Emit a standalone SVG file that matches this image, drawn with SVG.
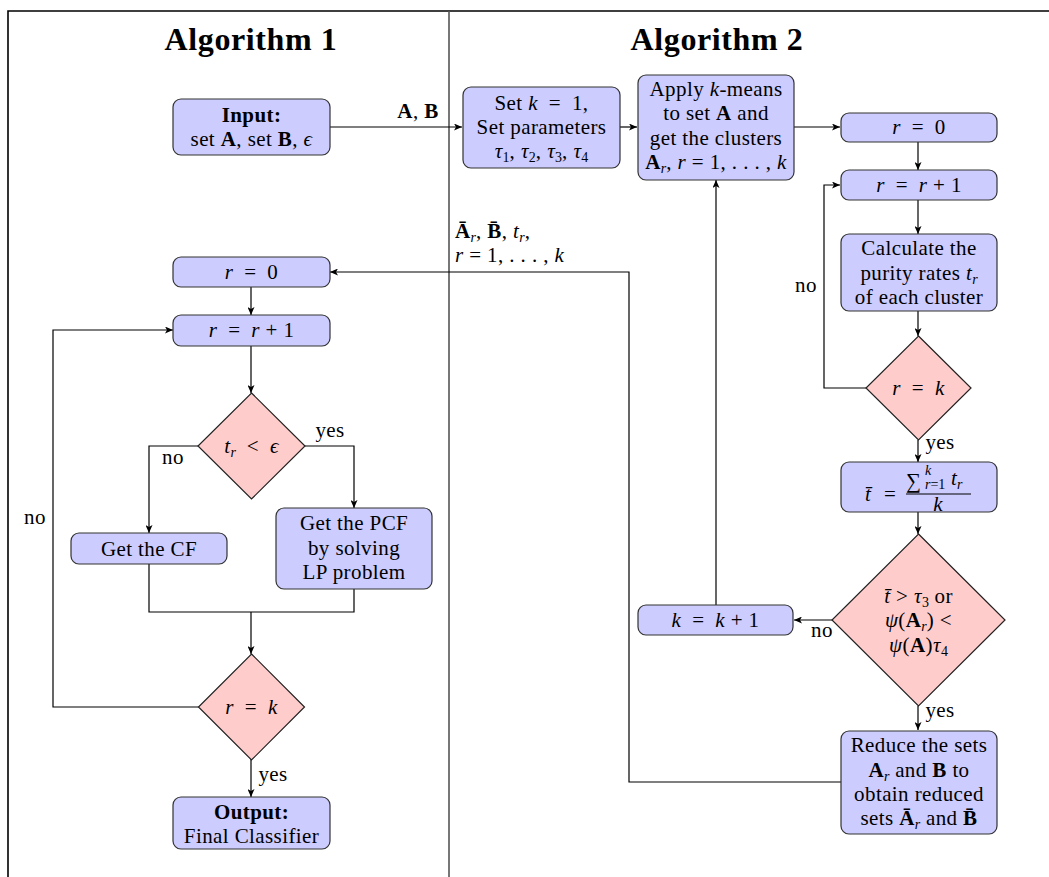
<svg xmlns="http://www.w3.org/2000/svg" width="1049" height="877" viewBox="0 0 1049 877">
<style>
text{font-family:"Liberation Serif","DejaVu Serif",serif;font-size:21px;letter-spacing:0.4px;fill:#000}
.c{text-anchor:middle}
.ttl{font-size:32px;font-weight:bold;letter-spacing:0.6px}
.i{font-style:italic}
.b{font-weight:bold}
.s{font-size:14px;letter-spacing:0}
.box{fill:#ccccff;stroke:#333;stroke-width:1.2}
.dia{fill:#ffcccc;stroke:#222;stroke-width:1.2}
.ln{fill:none;stroke:#000;stroke-width:1.2}
.lnA{fill:none;stroke:#000;stroke-width:1.2;marker-end:url(#ah)}
</style>
<defs>
<marker id="ah" markerUnits="userSpaceOnUse" markerWidth="9" markerHeight="7" refX="8" refY="3.5" orient="auto">
<path d="M0,0 L8,3.5 L0,7 L2,3.5 z" fill="#000"/>
</marker>
</defs>
<rect width="1049" height="877" fill="#fff"/>
<g id="frame">
<path d="M8,877 V11 H1049" fill="none" stroke="#000" stroke-width="1.6"/>
<path d="M449,11 V877" fill="none" stroke="#555" stroke-width="1.6"/>
<text x="251" y="50" class="c ttl">Algorithm 1</text>
<text x="717" y="50" class="c ttl">Algorithm 2</text>
</g>
<g id="connectors">
<path class="lnA" d="M330,127 H462"/>
<path class="lnA" d="M620,127 H637"/>
<path class="lnA" d="M794,127 H840"/>
<path class="lnA" d="M918,142 V170"/>
<path class="lnA" d="M918,200 V234"/>
<path class="lnA" d="M918,311 V336"/>
<path class="lnA" d="M866,388 H824 V185 H840"/>
<path class="lnA" d="M918,440 V462"/>
<path class="lnA" d="M918,512 V534"/>
<path class="lnA" d="M832,620 H794"/>
<path class="lnA" d="M716,605 V180"/>
<path class="lnA" d="M918,706 V730"/>
<path class="lnA" d="M841,782 H629 V272 H330"/>
<path class="lnA" d="M251,287 V315"/>
<path class="lnA" d="M251,346 V393"/>
<path class="lnA" d="M199,446 H149 V533"/>
<path class="lnA" d="M305,446 H354 V508"/>
<path class="ln" d="M149,564 V612 H354 V589"/>
<path class="lnA" d="M251,612 V654"/>
<path class="lnA" d="M199,707 H53 V330 H173"/>
<path class="lnA" d="M251,759 V797"/>
<text x="418" y="118" class="c b">A<tspan font-weight="normal">, </tspan>B</text>
<text x="455" y="238"><tspan class="b">Ā</tspan><tspan class="s i" dy="4">r</tspan><tspan dy="-4">, </tspan><tspan class="b">B̄</tspan>, <tspan class="i">t</tspan><tspan class="s i" dy="4">r</tspan><tspan dy="-4">,</tspan></text>
<text x="455" y="262"><tspan class="i">r</tspan> = 1, . . . , <tspan class="i">k</tspan></text>
<text x="173" y="464" class="c">no</text>
<text x="330" y="437" class="c">yes</text>
<text x="35" y="524" class="c">no</text>
<text x="273" y="781" class="c">yes</text>
<text x="806" y="292" class="c">no</text>
<text x="940" y="449" class="c">yes</text>
<text x="822" y="637" class="c">no</text>
<text x="940" y="717" class="c">yes</text>
</g>
<g id="input">
<rect class="box" x="173" y="99" width="157" height="56" rx="8"/>
<text x="251.5" y="122" class="c b">Input:</text>
<text x="251.5" y="146" class="c">set <tspan class="b">A</tspan>, set <tspan class="b">B</tspan>, <tspan class="i">ϵ</tspan></text>
</g>
<g id="r0-left">
<rect class="box" x="173" y="257" width="157" height="30" rx="8"/>
<text x="251.5" y="279" class="c"><tspan class="i">r</tspan>&#8194;=&#8194;0</text>
</g>
<g id="rinc-left">
<rect class="box" x="173" y="315" width="157" height="31" rx="8"/>
<text x="251.5" y="337" class="c"><tspan class="i">r</tspan>&#8194;=&#8194;<tspan class="i">r</tspan> + 1</text>
</g>
<g id="dec-eps">
<path class="dia" d="M251.5,393 L305,446 L251.5,499 L198,446 z"/>
<text x="251.5" y="453" class="c"><tspan class="i">t</tspan><tspan class="s i" dy="4">r</tspan><tspan dy="-4">&#8194;&lt;&#8194;</tspan><tspan class="i">ϵ</tspan></text>
</g>
<g id="cf">
<rect class="box" x="71" y="533" width="156" height="31" rx="8"/>
<text x="149" y="556" class="c">Get the CF</text>
</g>
<g id="pcf">
<rect class="box" x="276" y="508" width="156" height="81" rx="8"/>
<text x="354" y="530" class="c">Get the PCF</text>
<text x="354" y="555" class="c">by solving</text>
<text x="354" y="579" class="c">LP problem</text>
</g>
<g id="dec-rk-left">
<path class="dia" d="M251.5,654 L304.5,707 L251.5,760 L198.5,707 z"/>
<text x="251.5" y="714" class="c"><tspan class="i">r</tspan>&#8194;=&#8194;<tspan class="i">k</tspan></text>
</g>
<g id="output">
<rect class="box" x="173" y="797" width="157" height="52" rx="8"/>
<text x="251.5" y="819" class="c b">Output:</text>
<text x="251.5" y="843" class="c">Final Classifier</text>
</g>
<g id="setk">
<rect class="box" x="463" y="87" width="157" height="81" rx="8"/>
<text x="541.5" y="110" class="c">Set <tspan class="i">k</tspan>&#8194;=&#8194;1,</text>
<text x="541.5" y="134" class="c">Set parameters</text>
<text x="541.5" y="158" class="c"><tspan class="i">τ</tspan><tspan class="s" dy="4">1</tspan><tspan dy="-4">, </tspan><tspan class="i">τ</tspan><tspan class="s" dy="4">2</tspan><tspan dy="-4">, </tspan><tspan class="i">τ</tspan><tspan class="s" dy="4">3</tspan><tspan dy="-4">, </tspan><tspan class="i">τ</tspan><tspan class="s" dy="4">4</tspan></text>
</g>
<g id="kmeans">
<rect class="box" x="638" y="75" width="156" height="105" rx="8"/>
<text x="716" y="96" class="c">Apply <tspan class="i">k</tspan>-means</text>
<text x="716" y="120" class="c">to set <tspan class="b">A</tspan> and</text>
<text x="716" y="145" class="c">get the clusters</text>
<text x="716" y="169" class="c"><tspan class="b">A</tspan><tspan class="s i" dy="4">r</tspan><tspan dy="-4">, </tspan><tspan class="i">r</tspan> = 1, . . . , <tspan class="i">k</tspan></text>
</g>
<g id="r0-right">
<rect class="box" x="841" y="113" width="156" height="29" rx="8"/>
<text x="919" y="134" class="c"><tspan class="i">r</tspan>&#8194;=&#8194;0</text>
</g>
<g id="rinc-right">
<rect class="box" x="841" y="170" width="156" height="30" rx="8"/>
<text x="919" y="192" class="c"><tspan class="i">r</tspan>&#8194;=&#8194;<tspan class="i">r</tspan> + 1</text>
</g>
<g id="purity">
<rect class="box" x="841" y="234" width="156" height="77" rx="8"/>
<text x="919" y="255" class="c">Calculate the</text>
<text x="919" y="280" class="c">purity rates <tspan class="i">t</tspan><tspan class="s i" dy="4">r</tspan></text>
<text x="919" y="304" class="c">of each cluster</text>
</g>
<g id="dec-rk-right">
<path class="dia" d="M918.5,336 L971,388 L918.5,440 L866,388 z"/>
<text x="918.5" y="395" class="c"><tspan class="i">r</tspan>&#8194;=&#8194;<tspan class="i">k</tspan></text>
</g>
<g id="tbar">
<rect class="box" x="841" y="462" width="156" height="50" rx="8"/>
<text x="868" y="501" class="c i">t̄</text>
<text x="890" y="501" class="c">=</text>
<text x="906" y="488" font-size="20">∑</text>
<text x="925" y="475" class="s i" font-size="12">k</text>
<text x="925" y="489" class="s i" font-size="11">r<tspan font-style="normal">=1</tspan></text>
<text x="951" y="485" class="i">t</text>
<text x="957" y="489" class="s i" font-size="12">r</text>
<path d="M906,494 H971" stroke="#000" stroke-width="1"/>
<text x="938" y="511" class="c i" font-size="16">k</text>
</g>
<g id="dec-tau">
<path class="dia" d="M918.5,534 L1005,620 L918.5,706 L832,620 z"/>
<text x="918.5" y="603" class="c"><tspan class="i">t̄</tspan> &gt; <tspan class="i">τ</tspan><tspan class="s" dy="4">3</tspan><tspan dy="-4"> or</tspan></text>
<text x="918.5" y="627" class="c"><tspan class="i">ψ</tspan>(<tspan class="b">A</tspan><tspan class="s i" dy="4">r</tspan><tspan dy="-4">) &lt;</tspan></text>
<text x="918.5" y="652" class="c"><tspan class="i">ψ</tspan>(<tspan class="b">A</tspan>)<tspan class="i">τ</tspan><tspan class="s" dy="4">4</tspan></text>
</g>
<g id="kinc">
<rect class="box" x="638" y="605" width="155" height="30" rx="8"/>
<text x="715.5" y="627" class="c"><tspan class="i">k</tspan>&#8194;=&#8194;<tspan class="i">k</tspan> + 1</text>
</g>
<g id="reduce">
<rect class="box" x="841" y="731" width="156" height="103" rx="8"/>
<text x="919" y="752" class="c">Reduce the sets</text>
<text x="919" y="777" class="c"><tspan class="b">A</tspan><tspan class="s i" dy="4">r</tspan><tspan dy="-4"> and </tspan><tspan class="b">B</tspan> to</text>
<text x="919" y="801" class="c">obtain reduced</text>
<text x="919" y="825" class="c">sets <tspan class="b">Ā</tspan><tspan class="s i" dy="4">r</tspan><tspan dy="-4"> and </tspan><tspan class="b">B̄</tspan></text>
</g>
</svg>
